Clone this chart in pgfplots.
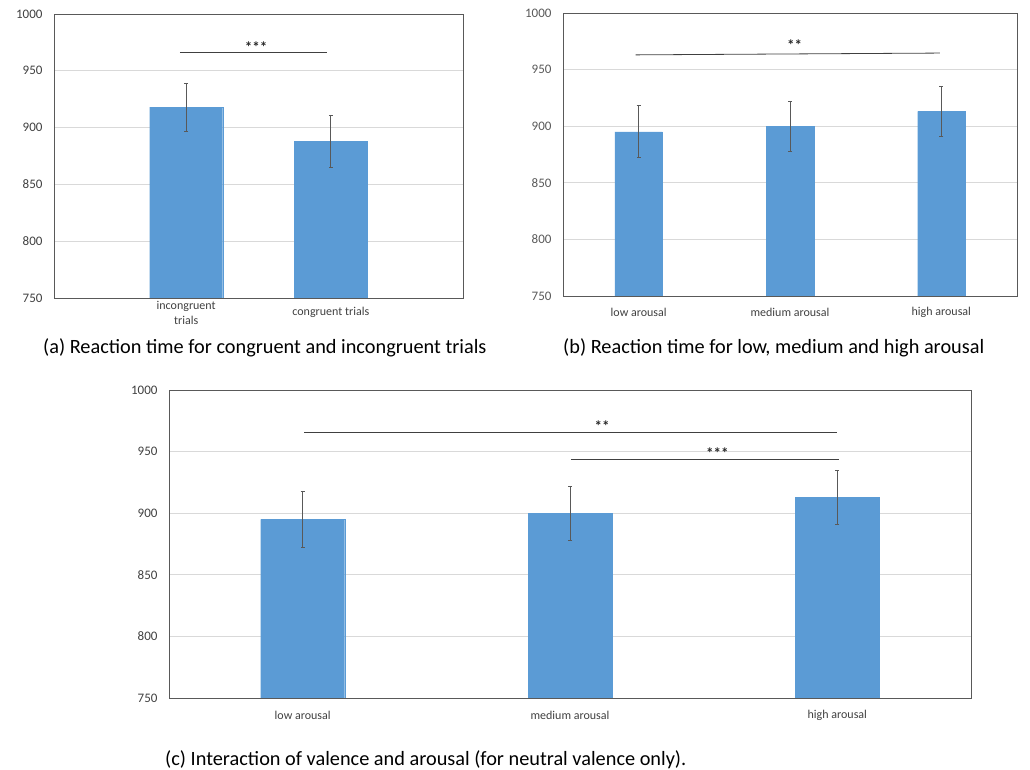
\documentclass[border=0pt]{standalone}
\usepackage{pgfplots}
\pgfplotsset{compat=1.18}
\usepackage{fontspec}
\setmainfont{Carlito}
\definecolor{barblue}{HTML}{5B9BD5}
\definecolor{gridgray}{HTML}{D9D9D9}
\definecolor{framegray}{HTML}{595959}
\definecolor{txt}{HTML}{404040}
\definecolor{startxt}{HTML}{262626}
\pgfplotsset{rtstyle/.style={
  scale only axis, anchor=south west,
  ymin=750, ymax=1000, ytick={750,800,...,1000},
  ymajorgrids, grid style={gridgray, line width=0.8pt},
  axis line style={framegray, line width=0.9pt},
  major tick length=0pt,
  /pgf/number format/assume math mode=true,
  /pgf/number format/1000 sep={},
  yticklabel style={font=\fontsize{13}{15}\selectfont, text=txt, xshift=-8pt},
  xticklabel style={font=\fontsize{12}{15}\selectfont, text=txt, align=center, anchor=center},
  xtick=data,
  ybar, bar shift=0pt,
}}
\pgfplotsset{barerr/.style={fill=barblue, draw=barblue, line width=0.1pt,
  error bars/.cd, y dir=both, y explicit, error mark=|,
  error bar style={draw=framegray, line width=0.8pt},
  error mark options={draw=framegray, color=framegray, line width=0.8pt, mark size=2pt}}}
\newcommand\starfont{\fontsize{15}{17}\selectfont\bfseries}
\begin{document}
\begin{tikzpicture}
\path (0,0) rectangle (1030pt,770pt);
% (a)
\begin{axis}[rtstyle, at={(54pt,472pt)}, width=409pt, height=284pt,
  xmin=-0.914, xmax=1.914, bar width=73pt,
  xticklabels={incongruent\\trials, congruent trials},
  xticklabel style={yshift=-14.5pt}]
\addplot[barerr] coordinates {(0,918) +- (0,21) (1,888) +- (0,23)};
\draw[txt, line width=0.8pt] (axis cs:-0.043,966) -- (axis cs:0.974,966);
\node[anchor=base, inner sep=0pt, text=startxt, font=\starfont] at (axis cs:0.483,966.5) {***};
\end{axis}
% (b)
\begin{axis}[rtstyle, at={(563pt,474pt)}, width=454pt, height=283pt,
  xmin=-0.5, xmax=2.5, bar width=47.5pt,
  xticklabels={low arousal, medium arousal, high arousal},
  xticklabel style={yshift=-16pt},
  yticklabel style={text=framegray}]
\addplot[barerr] coordinates {(0,895) +- (0,23) (1,900) +- (0,22) (2,913) +- (0,22)};
\draw[txt, line width=0.8pt] (axis cs:-0.02,963) -- (axis cs:1.99,964.6);
\node[anchor=base, inner sep=0pt, text=startxt, font=\starfont] at (axis cs:1.03,966.5) {**};
\end{axis}
% (c)
\begin{axis}[rtstyle, at={(169pt,72pt)}, width=802pt, height=308pt,
  xmin=-0.5, xmax=2.5, bar width=84pt,
  xticklabels={low arousal, medium arousal, high arousal},
  xticklabel style={yshift=-17pt}]
\addplot[barerr] coordinates {(0,895) +- (0,23) (1,900) +- (0,22) (2,913) +- (0,22)};
\draw[txt, line width=0.8pt] (axis cs:0.005,965.4) -- (axis cs:1.999,965.4);
\node[anchor=base, inner sep=0pt, text=startxt, font=\starfont] at (axis cs:1.12,966) {**};
\draw[txt, line width=0.8pt] (axis cs:1.003,943.4) -- (axis cs:2.005,943.4);
\node[anchor=base, inner sep=0pt, text=startxt, font=\starfont] at (axis cs:1.551,944) {***};
\end{axis}
\node[anchor=west, inner sep=0pt, font=\fontsize{20.3}{24}\selectfont] at (43pt,422pt) {(a) Reaction time for congruent and incongruent trials};
\node[anchor=west, inner sep=0pt, font=\fontsize{20.3}{24}\selectfont] at (563pt,422pt) {(b) Reaction time for low, medium and high arousal};
\node[anchor=west, inner sep=0pt, font=\fontsize{20.3}{24}\selectfont] at (165pt,10pt) {(c) Interaction of valence and arousal (for neutral valence only).};
\end{tikzpicture}
\end{document}
